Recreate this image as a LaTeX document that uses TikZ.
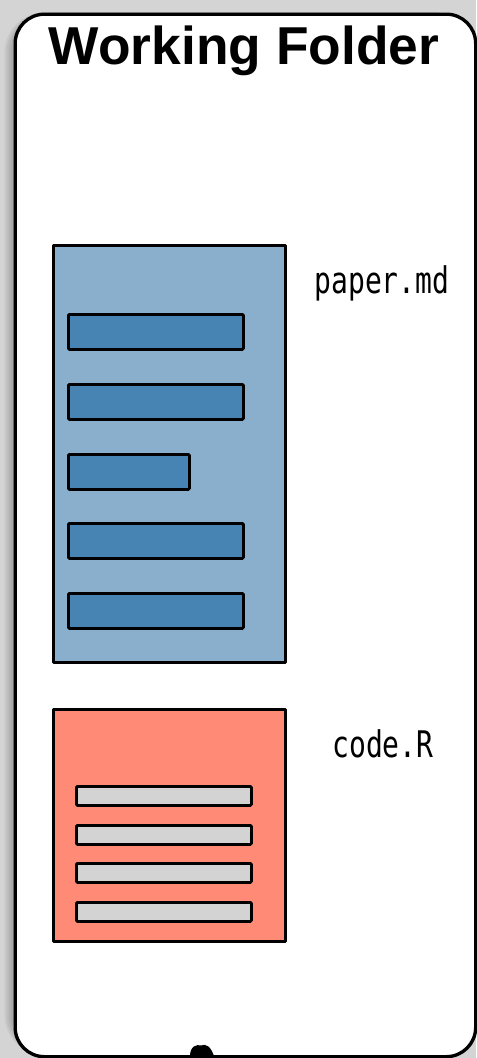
\documentclass[tikz,border=0pt]{standalone}
\usepackage{fontspec}
\setmainfont{Liberation Sans}
\newfontfamily\monofont{DejaVu Sans Mono}
\definecolor{bggray}{HTML}{D4D4D4}
\definecolor{paperfill}{HTML}{8AAFCD}
\definecolor{barblue}{HTML}{4783B3}
\definecolor{codefill}{HTML}{FF8B77}
\definecolor{barlight}{HTML}{D3D3D3}
\tikzset{
  box/.style={draw=black, line width=2.3pt, line join=round},
  bar/.style={draw=black, line width=2.1pt, rounded corners=0.8pt},
  fname/.style={font=\monofont\fontsize{25}{28}\selectfont, anchor=base},
}
\begin{document}
\begin{tikzpicture}[x=0.75pt,y=-0.75pt]
\useasboundingbox (0,0) rectangle (476,1058);
\fill[bggray] (0,0) rectangle (476,1058);
% soft shadow
\foreach \i/\o in {1/0.05,3/0.05,5/0.05,7/0.05,9/0.05}{
  \fill[black,opacity=\o,rounded corners=30] (13.5-\i,12.5) rectangle (474,1055);
}
\node[box, line width=2.5pt, fill=white, rounded corners=22pt, minimum width=460.5*0.75pt, minimum height=1042.5*0.75pt, inner sep=0pt, anchor=north west] (folder) at (13.5,12.5) {};
\node[font=\bfseries\fontsize{40}{44}\selectfont, anchor=base] (title) at (244,64) {Working Folder};
% paper.md
\node[box, fill=paperfill, minimum width=232*0.75pt, minimum height=417*0.75pt, inner sep=0pt, anchor=north west] (paper) at (52,244) {};
\foreach \y/\w [count=\k] in {313/175,383/175,453/121,522/175,592/175}{
  \node[bar, fill=barblue, minimum width=\w*0.75pt, minimum height=35*0.75pt, inner sep=0pt, anchor=north west] (pb\k) at (67,\y) {};
}
\node[fname] (paperlbl) at (382,293) {\scalebox{0.84}[1.1]{paper.md}};
% code.R
\node[box, fill=codefill, minimum width=232*0.75pt, minimum height=232*0.75pt, inner sep=0pt, anchor=north west] (code) at (52,708) {};
\foreach \y [count=\k] in {785,824,862,901}{
  \node[bar, fill=barlight, minimum width=175*0.75pt, minimum height=19*0.75pt, inner sep=0pt, anchor=north west] (cb\k) at (75,\y) {};
}
\node[fname] (codelbl) at (383,757) {\scalebox{0.84}[1.1]{code.R}};
% small blob at bottom
\fill[black] (190,1056) .. controls (190,1046) and (197,1044) .. (201,1045.5) .. controls (206,1043) and (211,1047) .. (214,1056) -- cycle;
\end{tikzpicture}
\end{document}
